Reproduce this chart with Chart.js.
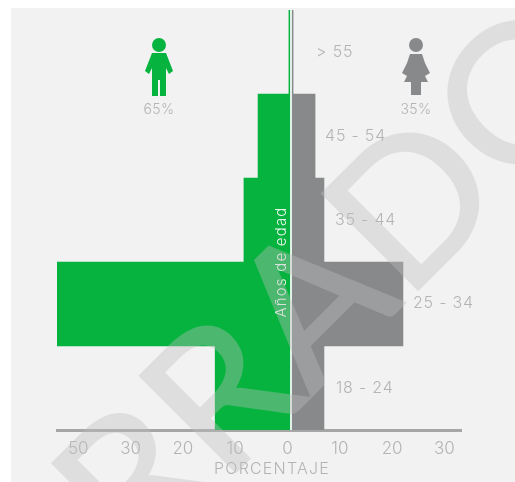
<!DOCTYPE html>
<html><head><meta charset="utf-8">
<style>html,body{margin:0;padding:0;background:#fff;width:515px;height:482px;overflow:hidden}
#panel{position:absolute;left:11px;top:8px;width:504px;height:474px;background:#f2f2f2}
canvas{position:absolute;left:0;top:0}
#c{filter:blur(.6px)}
#w{opacity:.38}</style>
<script src="https://cdn.jsdelivr.net/npm/chart.js@4"></script></head>
<body><div id="panel"></div><canvas id="c" width="515" height="482"></canvas><canvas id="w" width="515" height="482"></canvas>
<script>
const categories = ['> 55','45 - 54','35 - 44','25 - 34','18 - 24'];
const men = [-0.4,-6.3,-9,-44.7,-14.5];
const women = [0.4,4.6,6.3,21.4,6.3];
const tickValues = [-40,-30,-20,-10,0,10,20,30];
const tickLabels = ['50','30','20','10','0','10','20','30'];
const menShare = '65%', womenShare = '35%';
const GREEN='#06b33f', GREY='#88898b', TXT='#b4b4b4', FONT='Inter, Lato, sans-serif';

function person(ctx,cx,top,col,female){
  ctx.save();ctx.fillStyle=col;
  ctx.beginPath();ctx.arc(cx,top+7,7,0,7);ctx.fill();
  ctx.beginPath();
  if(female){
    ctx.moveTo(cx-6,top+16);ctx.lineTo(cx+6,top+16);ctx.lineTo(cx+9,top+25);ctx.lineTo(cx+14,top+35);ctx.lineTo(cx+9,top+38);ctx.lineTo(cx+12,top+44);ctx.lineTo(cx+5,top+44);ctx.lineTo(cx+5,top+57);ctx.lineTo(cx-5,top+57);ctx.lineTo(cx-5,top+44);ctx.lineTo(cx-12,top+44);ctx.lineTo(cx-9,top+38);ctx.lineTo(cx-14,top+35);ctx.lineTo(cx-9,top+25);
  }else{
    ctx.moveTo(cx-7,top+15);ctx.lineTo(cx+7,top+15);ctx.lineTo(cx+14,top+33);ctx.lineTo(cx+10,top+36);ctx.lineTo(cx+7,top+30);ctx.lineTo(cx+7,top+58);ctx.lineTo(cx+1,top+58);ctx.lineTo(cx+1,top+42);ctx.lineTo(cx-1,top+42);ctx.lineTo(cx-1,top+58);ctx.lineTo(cx-7,top+58);ctx.lineTo(cx-7,top+30);ctx.lineTo(cx-10,top+36);ctx.lineTo(cx-14,top+33);
  }
  ctx.closePath();ctx.fill();ctx.restore();
}
const deco={id:'deco',
 afterDatasetsDraw(ch){
  const c=ch.ctx,x=ch.scales.x,y=ch.scales.y,a=ch.chartArea,z=x.getPixelForValue(0);
  c.save();
  c.fillStyle='rgba(255,255,255,.85)';c.fillRect(z-1,a.top,2,a.bottom-a.top);
  c.fillStyle=TXT;c.font='300 16px '+FONT;c.letterSpacing='0.8px';c.textBaseline='middle';c.textAlign='left';
  const gaps=[23,10,11,10,12];
  categories.forEach((t,i)=>{c.fillText(t,x.getPixelForValue(women[i])+gaps[i],y.getPixelForValue(i)-(i==3?1:0));});
  c.textAlign='center';c.font='300 16px '+FONT;c.letterSpacing='1.2px';
  c.fillText('PORCENTAJE',272,469);
  c.font='300 14px '+FONT;c.letterSpacing='0.4px';
  c.fillText(menShare,159,110);c.fillText(womenShare,416,110);
  person(c,159,38,GREEN,false);person(c,416,38,GREY,true);
  c.translate(281,262);c.rotate(-Math.PI/2);c.fillStyle='#e9f7ee';c.font='300 15px '+FONT;c.letterSpacing='1.2px';c.fillText('Años de edad',0,0);
  c.restore();
 }};
new Chart(document.getElementById('c'),{type:'bar',plugins:[deco],
 data:{labels:categories,datasets:[
  {label:'Hombres',data:men,backgroundColor:GREEN,barPercentage:1,categoryPercentage:1},
  {label:'Mujeres',data:women,backgroundColor:GREY,barPercentage:1,categoryPercentage:1}]},
 options:{indexAxis:'y',responsive:false,animation:false,
  layout:{padding:{left:57,right:54,top:10,bottom:0}},
  plugins:{legend:{display:false},tooltip:{enabled:false}},
  scales:{
   y:{stacked:true,display:false,grid:{display:false}},
   x:{stacked:true,display:false,min:-44.74,max:32.5,grid:{display:false}},
   x2:{axis:'x',position:'bottom',min:-44.07,max:33.17,
    afterBuildTicks(s){s.ticks=tickValues.map(v=>({value:v}));},
    afterFit(s){s.height=52;},
    ticks:{autoSkip:false,maxRotation:0,color:TXT,font:{size:17,weight:'300',family:FONT},padding:9,callback(v){return tickLabels[tickValues.indexOf(v)];}},
    grid:{display:false,drawTicks:false},border:{display:true,color:'#a6a6a6',width:3}}
  }}});
const w=document.getElementById('w').getContext('2d');
w.save();w.translate(354,354);w.rotate(-Math.PI/4);w.scale(1.04,1);
w.fillStyle='#bebebe';w.strokeStyle='#bebebe';w.lineWidth=2;w.lineJoin='miter';
w.font='400 190px Lato, sans-serif';w.textBaseline='alphabetic';
const prefix=w.measureText('BORRA').width;
w.fillText('BORRADOR',70-prefix,0);
w.strokeText('BORRADOR',70-prefix,0);
w.restore();
</script></body></html>
